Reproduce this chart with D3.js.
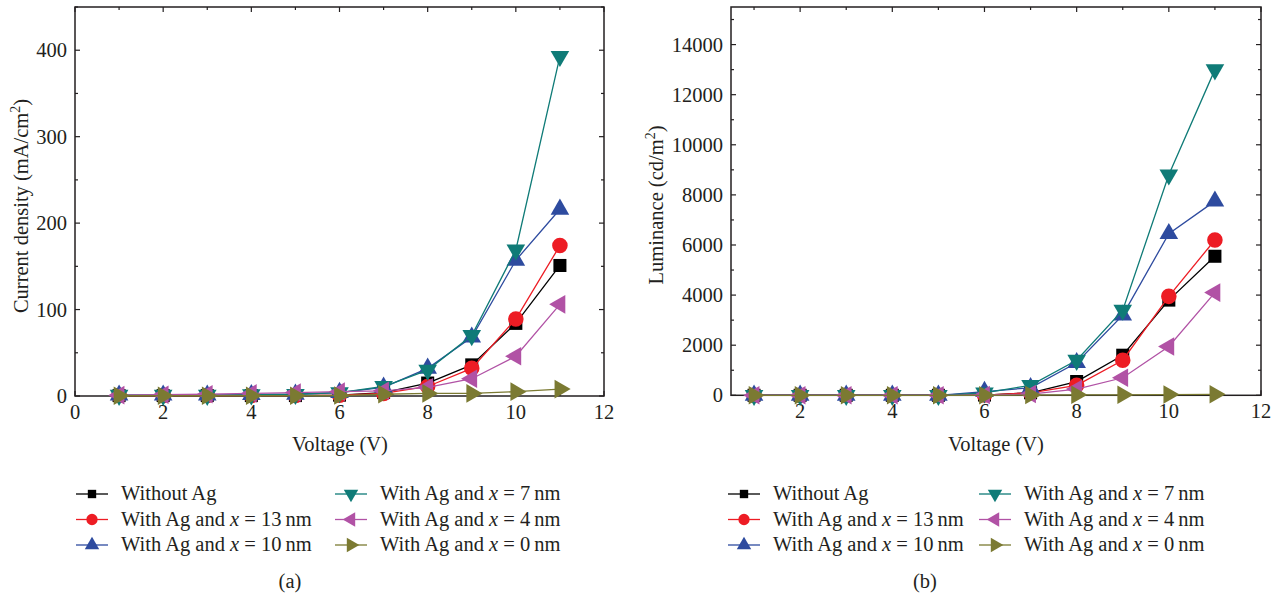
<!DOCTYPE html>
<html><head><meta charset="utf-8">
<script src="https://cdn.jsdelivr.net/npm/d3@7"></script>
<style>body{margin:0;background:#fff}svg{display:block}</style>
</head><body><svg id="c" width="1279" height="601"></svg>
<script>
const voltage = [1,2,3,4,5,6,7,8,9,10,11];
const legendLabels = [["Without Ag",null],["With Ag and ","13"],["With Ag and ","10"],["With Ag and ","7"],["With Ag and ","4"],["With Ag and ","0"]];
const colors = ["#000000","#ed1c24","#2e4b9f","#0f7b77","#b152a5","#7b7a32"];
const shapes = ["square","circle","up","down","left","right"];
// Current density (mA/cm2)
const jWithout = [0.5,0.5,0.5,0.5,0.5,1,4,15,36,84,151];
const j13 = [0.5,0.5,0.5,0.5,0.5,1,3,11,32,89,174];
const j10 = [1,1,1,1.5,2,4,10,32,68,157,216];
const j7 = [1,1,1,1.5,2,4,11,30,70,169,393];
const j4 = [1,1.5,2,3,4,5,6,10,20,46,106];
const j0 = [0.3,0.3,0.3,0.3,0.3,0.5,2,3,3,5,8];
// Luminance (cd/m2)
const lWithout = [0,0,0,0,0,10,100,550,1600,3800,5550];
const l13 = [0,0,0,0,0,10,100,400,1400,3950,6200];
const l10 = [0,0,0,0,0,150,300,1300,3200,6450,7750];
const l7 = [0,0,0,0,0,100,400,1400,3400,8800,13000];
const l4 = [0,0,0,0,0,10,50,250,700,1950,4100];
const l0 = [0,0,0,0,0,0,10,20,20,30,40];

const jTicks = [0,100,200,300,400];
const lTicks = [0,2000,4000,6000,8000,10000,12000,14000];
const xTicksA = [0,2,4,6,8,10,12];
const xTicksB = [2,4,6,8,10,12];

const svg = d3.select("#c");
const FS = 20.5;
const TXT = "#231f20";
const FONT = "Liberation Serif";

function txt(sel){ return sel.append("text").attr("font-family",FONT).attr("font-size",FS).attr("fill",TXT); }
function symbolPath(shape, size){
  let t = d3.symbolSquare;
  if(shape==="circle") t=d3.symbolCircle;
  else if(shape!=="square") t=d3.symbolTriangle;
  return d3.symbol().type(t).size(size)();
}
function rot(shape){ return {up:0,down:180,left:-90,right:90}[shape]||0; }
function symSize(shape){
  if(shape==="square") return 170;
  if(shape==="circle") return 190;
  return 150;
}

function panel(o){
  const g = svg.append("g");
  const x = d3.scaleLinear().domain(o.xDomain).range([o.left,o.right]);
  const y = d3.scaleLinear().domain(o.yDomain).range([o.bottom,o.top]);
  g.append("rect").attr("x",o.left).attr("y",o.top).attr("width",o.right-o.left).attr("height",o.bottom-o.top)
    .attr("fill","none").attr("stroke",TXT).attr("stroke-width",1.5);
  const tk = g.append("g").attr("stroke",TXT).attr("stroke-width",1.2);
  d3.range(Math.ceil(o.xDomain[0]),o.xDomain[1]+0.001,1).forEach(v=>{
    const L = o.xTicks.includes(v)?5:3;
    tk.append("line").attr("x1",x(v)).attr("x2",x(v)).attr("y1",o.bottom).attr("y2",o.bottom-L);
    tk.append("line").attr("x1",x(v)).attr("x2",x(v)).attr("y1",o.top).attr("y2",o.top+L);
  });
  d3.range(o.yDomain[0],o.yDomain[1]+0.001,o.yMinor).forEach(v=>{
    const L = o.yTicks.includes(v)?5:3;
    tk.append("line").attr("x1",o.left).attr("x2",o.left+L).attr("y1",y(v)).attr("y2",y(v));
    tk.append("line").attr("x1",o.right).attr("x2",o.right-L).attr("y1",y(v)).attr("y2",y(v));
  });
  o.xTicks.forEach(v=>{
    txt(g).attr("x",x(v)).attr("y",o.bottom+23).attr("text-anchor","middle").text(v);
  });
  o.yTicks.forEach(v=>{
    txt(g).attr("x",o.left-8).attr("y",y(v)+7).attr("text-anchor","end").text(v);
  });
  txt(g).attr("x",o.xLabelX).attr("y",451).attr("text-anchor","middle").text("Voltage (V)");
  const yl = txt(g).attr("transform",`translate(${o.yLabelX},${o.yLabelY}) rotate(-90)`).attr("text-anchor","middle");
  yl.append("tspan").text(o.yLabel);
  yl.append("tspan").attr("dy",-8).attr("font-size",14).text("2");
  yl.append("tspan").attr("dy",8).text(")");
  const line = d3.line().x((d,i)=>x(voltage[i])).y(d=>y(d));
  o.series.forEach((s,k)=>{
    g.append("path").attr("d",line(s)).attr("fill","none").attr("stroke",colors[k]).attr("stroke-width",1.3);
    s.forEach((d,i)=>{
      g.append("path").attr("d",symbolPath(shapes[k],symSize(shapes[k])))
        .attr("transform",`translate(${x(voltage[i])},${y(d)}) rotate(${rot(shapes[k])})`)
        .attr("fill",colors[k]);
    });
  });
  const lg = g.append("g");
  legendLabels.forEach((lab,k)=>{
    const col = k<3?0:1, row = k%3;
    const lx = o.legendX[col], ly = o.legendY + row*25.5;
    lg.append("line").attr("x1",lx).attr("x2",lx+32).attr("y1",ly).attr("y2",ly).attr("stroke",colors[k]).attr("stroke-width",1.3);
    const sz = shapes[k]==="square"?70:shapes[k]==="circle"?100:90;
    lg.append("path").attr("d",symbolPath(shapes[k],sz)).attr("transform",`translate(${lx+16},${ly}) rotate(${rot(shapes[k])})`).attr("fill",colors[k]);
    const t = txt(lg).attr("x",lx+45).attr("y",ly+6);
    if(lab[1]===null){ t.text(lab[0]); }
    else {
      t.append("tspan").text(lab[0]);
      t.append("tspan").attr("font-style","italic").text("x");
      t.append("tspan").text(" = " + lab[1] + "\u2009nm");
    }
  });
  txt(g).attr("x",o.capX).attr("y",588).attr("text-anchor","middle").text(o.cap);
}

panel({left:75,right:604,top:7,bottom:396,xDomain:[0,12],yDomain:[0,450],yMinor:50,
  xTicks:xTicksA,yTicks:jTicks,yLabel:"Current density (mA/cm",yLabelX:28,yLabelY:206,xLabelX:340,
  series:[jWithout,j13,j10,j7,j4,j0],legendX:[76,335],legendY:494,cap:"(a)",capX:290});
panel({left:731,right:1261,top:7,bottom:395.3,xDomain:[0.5,12],yDomain:[0,15500],yMinor:1000,
  xTicks:xTicksB,yTicks:lTicks,yLabel:"Luminance (cd/m",yLabelX:663,yLabelY:205,xLabelX:996,
  series:[lWithout,l13,l10,l7,l4,l0],legendX:[728,979],legendY:494,cap:"(b)",capX:925});
</script></body></html>
